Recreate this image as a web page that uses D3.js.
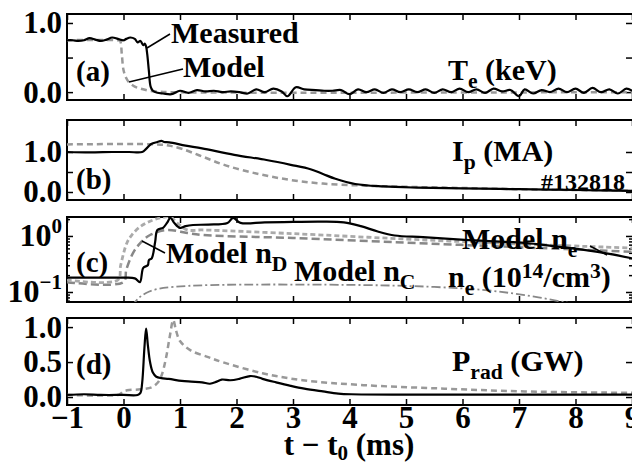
<!DOCTYPE html>
<html>
<head>
<meta charset="utf-8">
<script src="https://cdn.jsdelivr.net/npm/d3@7"></script>
<style>
body { margin: 0; background: #fff; }
text { font-family: "Liberation Serif", "Times New Roman", serif; font-weight: bold; fill: #000; }
</style>
</head>
<body>
<svg id="chart" width="632" height="464"></svg>
<script>
// time axis, ms
var timeTicks = [-1, 0, 1, 2, 3, 4, 5, 6, 7, 8, 9];

// (a) Te, keV  [t, value]
var teMeasured = [[-1,0.75],[-0.9,0.75],[-0.8,0.74],[-0.7,0.75],[-0.6,0.78],[-0.5,0.76],[-0.4,0.74],[-0.3,0.76],
  [-0.2,0.79],[-0.1,0.77],[0,0.75],[0.05,0.77],[0.12,0.79],[0.2,0.77],[0.25,0.72],[0.3,0.74],[0.35,0.68],
  [0.38,0.7],[0.4,0.66],[0.42,0.55],[0.45,0.3],[0.48,0.08],[0.52,0.02],[0.6,-0.01],[0.7,-0.02],[0.85,-0.03],
  [1.0,0.02],[1.15,-0.01],[1.3,0.03],[1.45,0.01],[1.6,0.02],[1.75,0.0],[1.9,0.01],[2.05,0.0],[2.2,-0.02],
  [2.35,0.04],[2.5,0.0],[2.65,0.05],[2.8,0.01],[2.9,-0.06],[3.05,0.07],[3.2,0.04],[3.4,0.03],[3.55,0.02],
  [3.7,0.02],[3.85,0.03],[4.0,-0.03],[4.15,0.04],[4.3,0.0],[4.45,0.04],[4.6,-0.01],[4.75,0.04],[4.9,0.0],
  [5.05,0.04],[5.2,0.0],[5.35,0.04],[5.5,-0.01],[5.65,0.04],[5.8,0.0],[5.95,0.05],[6.1,0.0],[6.25,0.04],
  [6.4,-0.01],[6.55,0.05],[6.7,0.01],[6.85,0.03],[7.0,-0.06],[7.1,0.04],[7.25,-0.02],[7.4,0.03],[7.55,0.0],
  [7.7,0.05],[7.85,0.0],[8.0,0.05],[8.15,-0.01],[8.3,0.06],[8.45,0.0],[8.6,0.04],[8.75,-0.02],[8.9,0.05],[9.0,0.02]];
var teModel = [[-1,0.75],[-0.1,0.75],[-0.06,0.74],[-0.03,0.55],[0,0.32],[0.05,0.2],[0.1,0.14],[0.2,0.08],
  [0.3,0.05],[0.45,0.02],[0.6,0.01],[0.8,0.0],[9,0.0]];

// (b) Ip, MA
var ipMeasured = [[-1,1.0],[-0.6,0.99],[-0.2,1.0],[0.1,1.0],[0.33,1.0],[0.4,1.08],[0.49,1.2],[0.6,1.25],
  [0.67,1.28],[0.72,1.25],[0.81,1.24],[1.1,1.16],[1.39,1.09],[1.96,0.93],[2.53,0.8],[2.96,0.68],[3.31,0.57],
  [3.53,0.45],[3.75,0.33],[4.1,0.2],[4.6,0.14],[5.2,0.11],[6,0.09],[7,0.07],[8,0.05],[9,0.03]];
var ipModel = [[-1,1.19],[0.6,1.19],[0.8,1.16],[1.03,1.08],[1.39,0.89],[1.82,0.66],[2.39,0.45],[2.96,0.3],
  [3.53,0.21],[4.25,0.16],[5,0.13],[6,0.1],[7,0.07],[8,0.05],[9,0.03]];

// (c) densities, 10^14/cm^3
var neMeasured = [[-1,0.18],[-0.5,0.18],[0.0,0.18],[0.2,0.175],[0.29,0.15],[0.35,0.27],[0.43,0.3],[0.45,0.37],
  [0.5,0.4],[0.56,0.78],[0.6,1.28],[0.7,1.4],[0.77,1.71],[0.83,2.1],[0.9,1.7],[1.0,1.39],[1.1,1.5],[1.23,1.57],
  [1.5,1.6],[1.84,1.71],[1.94,2.1],[2.07,1.71],[2.5,1.75],[3.0,1.78],[3.5,1.8],[3.9,1.75],[4.2,1.5],
  [4.5,1.2],[4.8,1.02],[5.3,0.95],[6.04,0.85],[7.1,0.75],[7.6,0.66],[8.18,0.56],[8.6,0.48],[9.0,0.4]];
var neModel = [[-1,0.164],[-0.1,0.164],[-0.05,0.3],[0.06,0.75],[0.15,1.05],[0.29,1.45],[0.45,1.8],[0.65,2.1],
  [0.83,2.18],[0.95,1.7],[1.13,1.28],[1.39,1.28],[3,1.1],[5,0.88],[7,0.72],[9,0.61]];
var nDModel = [[-1,0.15],[0.0,0.15],[0.05,0.25],[0.17,0.5],[0.3,0.75],[0.47,1.04],[0.77,1.28],[1.13,1.13],
  [1.4,1.04],[3,0.92],[5,0.76],[7,0.63],[9,0.52]];
var nCModel = [[0.15,0.055],[0.25,0.075],[0.4,0.096],[0.6,0.113],[0.88,0.123],[1.53,0.133],[4.25,0.133],
  [5.5,0.123],[6.4,0.108],[7.1,0.088],[7.8,0.066],[8.2,0.055]];

// (d) Prad, GW
var pradMeasured = [[-1,0.03],[-0.7,0.04],[-0.4,0.03],[0,0.03],[0.25,0.03],[0.3,0.06],[0.33,0.2],[0.37,0.7],
  [0.4,0.98],[0.43,0.75],[0.47,0.5],[0.52,0.35],[0.58,0.29],[0.67,0.27],[0.8,0.26],[1.03,0.23],[1.2,0.22],
  [1.39,0.21],[1.53,0.19],[1.65,0.22],[1.74,0.25],[1.89,0.24],[2.05,0.26],[2.24,0.3],[2.35,0.29],[2.46,0.26],
  [2.7,0.21],[2.96,0.16],[3.2,0.12],[3.53,0.08],[3.8,0.05],[4.03,0.04],[5,0.035],[6,0.035],[7,0.035],[9,0.035]];
var pradModel = [[-1,0.03],[-0.1,0.03],[-0.05,0.05],[0,0.08],[0.1,0.1],[0.3,0.11],[0.5,0.14],[0.6,0.2],
  [0.67,0.3],[0.75,0.55],[0.82,0.87],[0.88,1.1],[0.93,0.95],[1.0,0.8],[1.18,0.67],[1.5,0.57],[1.75,0.5],
  [2.46,0.34],[3.17,0.24],[4.25,0.17],[5.68,0.12],[7.1,0.08],[9,0.06]];

var svg = d3.select("#chart");
var x = d3.scaleLinear().domain([-1, 9]).range([67, 632]);

var panelA = {top: 14, bottom: 100};
var panelB = {top: 120, bottom: 200};
var panelC = {top: 217, bottom: 302};
var panelD = {top: 318, bottom: 405};

var yA = d3.scaleLinear().domain([-0.114, 1.13]).range([panelA.bottom, panelA.top]);
var yB = d3.scaleLinear().domain([-0.2, 1.8]).range([panelB.bottom, panelB.top]);
var yC = d3.scaleLog().domain([0.0663, 2.18]).range([panelC.bottom, panelC.top]);
var yD = d3.scaleLinear().domain([-0.114, 1.13]).range([panelD.bottom, panelD.top]);

function frame(p, y, name, ticks, labels, minor) {
    var g = svg.append("g");
    // clip so curves stay in the box
    svg.append("clipPath").attr("id", "clip" + name).append("rect")
        .attr("x", 67).attr("y", p.top).attr("width", 570).attr("height", p.bottom - p.top);

    g.append("g").attr("transform", "translate(0," + p.bottom + ")")
        .call(d3.axisBottom(x).tickValues(timeTicks).tickSize(-6).tickPadding(1)
            .tickFormat(name == "d" ? d3.format("d") : ""));
    g.append("g").attr("transform", "translate(0," + p.top + ")")
        .call(d3.axisTop(x).tickValues(timeTicks).tickSize(-6).tickFormat(""));
    g.append("g").attr("transform", "translate(67,0)")
        .call(d3.axisLeft(y).tickValues(ticks).tickSize(-6).tickPadding(5)
            .tickFormat(function (d) { return labels ? labels(d) : ""; }));
    g.append("g").attr("transform", "translate(632,0)")
        .call(d3.axisRight(y).tickValues(ticks).tickSize(-6).tickFormat(""));
    if (minor) {
        g.append("g").attr("transform", "translate(67,0)")
            .call(d3.axisLeft(y).tickValues(minor).tickSize(-3).tickFormat(""));
        g.append("g").attr("transform", "translate(632,0)")
            .call(d3.axisRight(y).tickValues(minor).tickSize(-3).tickFormat(""));
    }
    g.selectAll(".domain").remove();
    g.selectAll(".tick line").attr("stroke", "#000").attr("stroke-width", 1.5);
    g.selectAll(".tick text").attr("font-size", 31).attr("font-family", "Liberation Serif").attr("font-weight", "bold");

    g.append("rect").attr("x", 67).attr("y", p.top).attr("width", 570).attr("height", p.bottom - p.top)
        .attr("fill", "none").attr("stroke", "#000").attr("stroke-width", 2);
    return g;
}

function curve(data, y, name, color, width, dash) {
    var line = d3.line()
        .x(function (d) { return x(d[0]); })
        .y(function (d) { return y(d[1]); })
        .curve(d3.curveCatmullRom);
    svg.append("path").datum(data)
        .attr("clip-path", "url(#clip" + name + ")")
        .attr("d", line)
        .attr("fill", "none")
        .attr("stroke", color)
        .attr("stroke-width", width)
        .attr("stroke-dasharray", dash);
}

var oneDec = function (d) { return d == 0.5 ? "" : d3.format(".1f")(d); };

// ---- (a) Te
frame(panelA, yA, "a", [0, 0.5, 1], oneDec);
curve(teModel, yA, "a", "#999", 2.5, "6,4");
curve(teMeasured, yA, "a", "#000", 2.2, null);

// ---- (b) Ip
frame(panelB, yB, "b", [0, 0.5, 1], oneDec);
curve(ipModel, yB, "b", "#999", 2.5, "6,4");
curve(ipMeasured, yB, "b", "#000", 2.2, null);

// ---- (c) densities, log scale
var minorC = [0.07, 0.08, 0.09, 0.2, 0.3, 0.4, 0.5, 0.6, 0.7, 0.8, 0.9, 2];
frame(panelC, yC, "c", [0.1, 1], null, minorC);
curve(nCModel, yC, "c", "#888", 1.8, "9,3,2,3");
curve(nDModel, yC, "c", "#888", 2.5, "8,4");
curve(neModel, yC, "c", "#aaa", 2.8, "5,3");
curve(neMeasured, yC, "c", "#000", 2.2, null);
[[1, "0"], [0.1, "\u22121"]].forEach(function (d) {
    var t = svg.append("text").attr("x", 62).attr("y", yC(d[0]) + 10).attr("text-anchor", "end").attr("font-size", 32);
    t.append("tspan").text("10");
    t.append("tspan").attr("dy", -13).attr("font-size", 21).text(d[1]);
});

// ---- (d) Prad
frame(panelD, yD, "d", [0, 0.5, 1], function (d) { return d3.format(".1f")(d); });
curve(pradModel, yD, "d", "#999", 2.5, "6,4");
curve(pradMeasured, yD, "d", "#000", 2.2, null);

// ---- text
function label(xp, yp, size, parts) {
    var t = svg.append("text").attr("x", xp).attr("y", yp).attr("font-size", size);
    parts.forEach(function (p) {
        var s = t.append("tspan").text(p[0]);
        if (p[1] == "sub") s.attr("font-size", size * 0.72).attr("dy", 8);
        if (p[1] == "up") s.attr("font-size", size * 0.72).attr("dy", -9);
        if (p[1] == "subend") s.attr("dy", -8);
        if (p[1] == "upend") s.attr("dy", 9);
    });
    return t;
}
function pointer(x1, y1, x2, y2) {
    svg.append("line").attr("x1", x1).attr("y1", y1).attr("x2", x2).attr("y2", y2)
        .attr("stroke", "#000").attr("stroke-width", 1.5);
}

label(171, 43, 30, [["Measured"]]);
pointer(170, 34, 147, 48);
label(183, 77, 30, [["Model"]]);
pointer(183, 69, 129, 82);
label(76, 81, 29, [["(a)"]]);
label(448, 80, 30, [["T"], ["e", "sub"], [" (keV)", "subend"]]);

label(76, 189, 29, [["(b)"]]);
label(452, 161, 30, [["I"], ["p", "sub"], [" (MA)", "subend"]]);
svg.append("text").attr("x", 625).attr("y", 190).attr("text-anchor", "end").attr("font-size", 24).text("#132818");

label(76, 272, 29, [["(c)"]]);
label(166, 263, 30, [["Model n"], ["D", "sub"]]);
pointer(165, 253, 142, 241);
label(294, 281, 30, [["Model n"], ["C", "sub"]]);
label(448, 287, 30, [["n"], ["e", "sub"], [" (10", "subend"], ["14", "up"], ["/cm", "upend"], ["3", "up"], [")", "upend"]]);
label(462, 249, 30, [["Model n"], ["e", "sub"]]);
pointer(590, 246, 607, 255);

label(76, 374, 29, [["(d)"]]);
label(452, 371, 30, [["P"], ["rad", "sub"], [" (GW)", "subend"]]);

// x title
var xt = svg.append("text").attr("x", 349).attr("y", 455).attr("text-anchor", "middle").attr("font-size", 31);
xt.append("tspan").text("t \u2212 t");
xt.append("tspan").attr("font-size", 21).attr("dy", 5).text("0");
xt.append("tspan").attr("dy", -5).text(" (ms)");
</script>
</body>
</html>
